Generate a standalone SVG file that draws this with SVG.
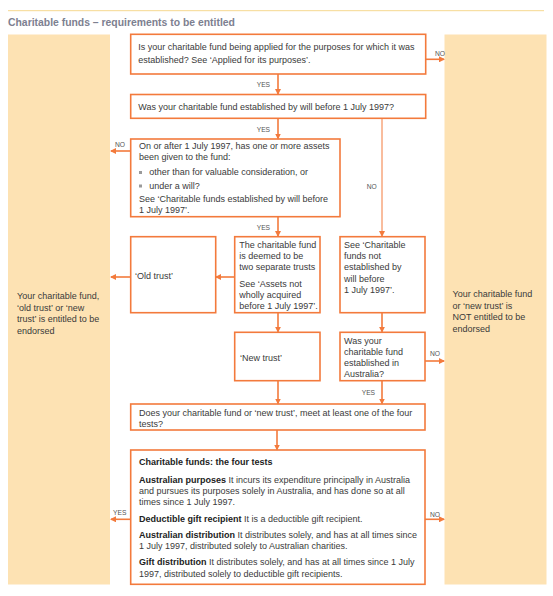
<svg xmlns="http://www.w3.org/2000/svg" width="553" height="596" viewBox="0 0 553 596">
<defs>
<marker id="ah" markerWidth="6" markerHeight="6" refX="5" refY="3" orient="auto" markerUnits="userSpaceOnUse">
<path d="M0,0 L6,3 L0,6 z" fill="#f37a3c"/>
</marker>
</defs>
<style>
text{font-family:"Liberation Sans",Arial,Helvetica,sans-serif;font-size:9px;fill:#3a3a3a}
.box{fill:#ffffff;stroke:#f37a3c;stroke-width:1.6}
.panel{fill:#fde2b3}
.lbl{font-size:6.7px;fill:#555}
.conn line{stroke:#f37a3c;stroke-width:1.6;marker-end:url(#ah)}
.conn line.thin{stroke-width:1}
.b{font-weight:bold;fill:#222}
.title{font-size:10.4px;font-weight:bold;fill:#7d8090}
.bul{fill:#9a9a9a}
</style>
<rect width="553" height="596" fill="#ffffff"/>
<line x1="8" y1="10.7" x2="544" y2="10.7" stroke="#f6d88f" stroke-width="1"/>
<text class="title" x="8" y="26">Charitable funds – requirements to be entitled</text>

<g id="panel-left">
<rect class="panel" x="8" y="34.5" width="102" height="550"/>
<text x="17" y="299">Your charitable fund,</text>
<text x="17" y="310.5">‘old trust’ or ‘new</text>
<text x="17" y="322">trust’ is entitled to be</text>
<text x="17" y="333.5">endorsed</text>
</g>
<g id="panel-right">
<rect class="panel" x="444.5" y="34.5" width="102" height="550"/>
<text x="452.5" y="297">Your charitable fund</text>
<text x="452.5" y="308.5">or ‘new trust’ is</text>
<text x="452.5" y="320">NOT entitled to be</text>
<text x="452.5" y="331.5">endorsed</text>
</g>

<g id="q1">
<rect class="box" x="130.7" y="34.3" width="295" height="39.7"/>
<text x="138.3" y="50">Is your charitable fund being applied for the purposes for which it was</text>
<text x="138.3" y="63">established? See ‘Applied for its purposes’.</text>
</g>
<g id="q2">
<rect class="box" x="130.7" y="94.5" width="295" height="23.8"/>
<text x="138.3" y="110">Was your charitable fund established by will before 1 July 1997?</text>
</g>
<g id="q3">
<rect class="box" x="130.7" y="139" width="209.3" height="77.7"/>
<text x="139" y="149">On or after 1 July 1997, has one or more assets</text>
<text x="139" y="160">been given to the fund:</text>
<rect class="bul" x="139" y="171" width="3" height="3"/>
<text x="149.3" y="175">other than for valuable consideration, or</text>
<rect class="bul" x="139" y="184.5" width="3" height="3"/>
<text x="149.3" y="188.5">under a will?</text>
<text x="139" y="201.5">See ‘Charitable funds established by will before</text>
<text x="139" y="212.5">1 July 1997’.</text>
</g>
<g id="old-trust">
<rect class="box" x="130.7" y="236.7" width="85" height="76"/>
<text x="135" y="279">‘Old trust’</text>
</g>
<g id="two-trusts">
<rect class="box" x="234.7" y="236.7" width="85.3" height="76"/>
<text x="239.3" y="248.3">The charitable fund</text>
<text x="239.3" y="259.3">is deemed to be</text>
<text x="239.3" y="270.3">two separate trusts</text>
<text x="239.3" y="287.3">See ‘Assets not</text>
<text x="239.3" y="298.3">wholly acquired</text>
<text x="239.3" y="309.3">before 1 July 1997’.</text>
</g>
<g id="not-by-will">
<rect class="box" x="340" y="236.7" width="85" height="76"/>
<text x="344" y="248.3">See ‘Charitable</text>
<text x="344" y="259.3">funds not</text>
<text x="344" y="270.3">established by</text>
<text x="344" y="281.5">will before</text>
<text x="344" y="292.5">1 July 1997’.</text>
</g>
<g id="new-trust">
<rect class="box" x="234.7" y="332.3" width="85.3" height="48.4"/>
<text x="240" y="360.7">‘New trust’</text>
</g>
<g id="in-australia">
<rect class="box" x="340" y="332.3" width="85" height="48.4"/>
<text x="344" y="344">Was your</text>
<text x="344" y="355">charitable fund</text>
<text x="344" y="366">established in</text>
<text x="344" y="377">Australia?</text>
</g>
<g id="q-tests">
<rect class="box" x="130.7" y="404" width="294.3" height="26"/>
<text x="139" y="416">Does your charitable fund or ‘new trust’, meet at least one of the four</text>
<text x="139" y="427">tests?</text>
</g>
<g id="four-tests">
<rect class="box" x="130.7" y="450" width="294.3" height="134.3"/>
<text x="139" y="465.3" class="b">Charitable funds: the four tests</text>
<text x="139" y="482.7"><tspan class="b">Australian purposes</tspan> It incurs its expenditure principally in Australia</text>
<text x="139" y="494">and pursues its purposes solely in Australia, and has done so at all</text>
<text x="139" y="505.3">times since 1 July 1997.</text>
<text x="139" y="522"><tspan class="b">Deductible gift recipient</tspan> It is a deductible gift recipient.</text>
<text x="139" y="537.7"><tspan class="b">Australian distribution</tspan> It distributes solely, and has at all times since</text>
<text x="139" y="549">1 July 1997, distributed solely to Australian charities.</text>
<text x="139" y="565.3"><tspan class="b">Gift distribution</tspan> It distributes solely, and has at all times since 1 July</text>
<text x="139" y="576.7">1997, distributed solely to deductible gift recipients.</text>
</g>

<g id="connectors" class="conn">
<line x1="425.7" y1="59.3" x2="444" y2="59.3"/>
<line x1="278" y1="74" x2="278" y2="94"/>
<line x1="278" y1="118.3" x2="278" y2="138.5"/>
<line class="thin" x1="382" y1="118.3" x2="382" y2="236"/>
<line x1="130.7" y1="151" x2="111" y2="151"/>
<line x1="278" y1="216.7" x2="278" y2="236"/>
<line x1="234.7" y1="277" x2="216" y2="277"/>
<line x1="130.7" y1="277" x2="111" y2="277"/>
<line x1="278" y1="312.7" x2="278" y2="331.8"/>
<line x1="382" y1="312.7" x2="382" y2="331.8"/>
<line x1="425" y1="361" x2="444" y2="361"/>
<line x1="278" y1="380.7" x2="278" y2="403.5"/>
<line x1="382" y1="380.7" x2="382" y2="403.5"/>
<line x1="277" y1="430" x2="277" y2="449.5"/>
<line x1="130.7" y1="519.3" x2="111" y2="519.3"/>
<line x1="425" y1="519.3" x2="444" y2="519.3"/>
</g>
<g id="connector-labels">
<text class="lbl" x="435" y="56">NO</text>
<text class="lbl" x="256.7" y="87.3">YES</text>
<text class="lbl" x="256.7" y="131.7">YES</text>
<text class="lbl" x="115" y="146.7">NO</text>
<text class="lbl" x="366.7" y="189.3">NO</text>
<text class="lbl" x="256.7" y="230">YES</text>
<text class="lbl" x="430" y="356">NO</text>
<text class="lbl" x="361.7" y="395">YES</text>
<text class="lbl" x="113" y="515.3">YES</text>
<text class="lbl" x="430" y="516.7">NO</text>
</g>
</svg>
